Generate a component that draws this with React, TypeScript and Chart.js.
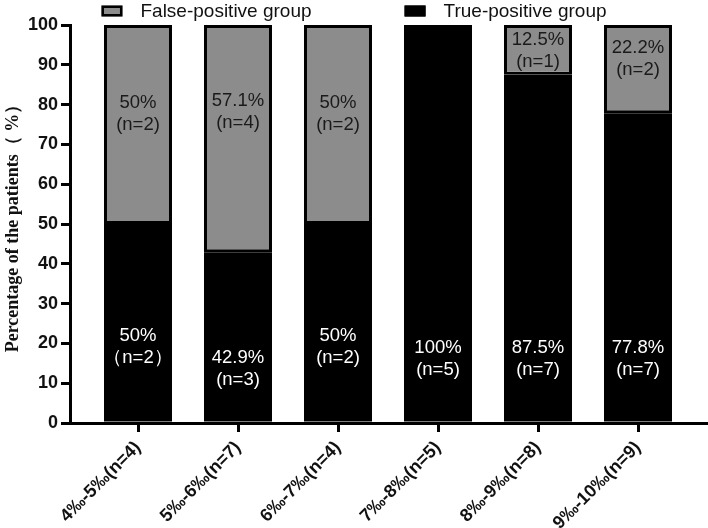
import React, { useEffect, useRef } from "react";
import { Chart, registerables } from "chart.js";

Chart.register(...registerables);

// ---------- data ----------
const categories = [
  "4‰-5‰(n=4)",
  "5‰-6‰(n=7)",
  "6‰-7‰(n=4)",
  "7‰-8‰(n=5)",
  "8‰-9‰(n=8)",
  "9‰-10‰(n=9)",
];
const truePositivePct = [50, 42.9, 50, 100, 87.5, 77.8];
const falsePositivePct = [50, 57.1, 50, 0, 12.5, 22.2];
const truePositiveN = ["（n=2）", "(n=3)", "(n=2)", "(n=5)", "(n=7)", "(n=7)"];
const falsePositiveN = ["(n=2)", "(n=4)", "(n=2)", "", "(n=1)", "(n=2)"];
const truePctLabels = ["50%", "42.9%", "50%", "100%", "87.5%", "77.8%"];
const falsePctLabels = ["50%", "57.1%", "50%", "", "12.5%", "22.2%"];
// where each annotation block is centred (value units)
const trueLabelAnchor = [19.1, 13.6, 19.1, 16, 16, 16];
const falseLabelAnchor = [77.6, 78.1, 77.6, 0, 93.5, 91.5];
const yTicks = [0, 10, 20, 30, 40, 50, 60, 70, 80, 90, 100];

const SANS = "'Liberation Sans', Arial, sans-serif";
const SERIF = "'Liberation Serif', 'Times New Roman', serif";

const GRAY = "#8c8c8c";

const legendPlugin = {
  id: "customLegend",
  afterDraw(chart: any) {
    const ctx = chart.ctx;
    const items = [
      { text: "False-positive group", fill: GRAY },
      { text: "True-positive group", fill: "#000000" },
    ];
    ctx.save();
    ctx.font = `19px ${SANS}`;
    ctx.textBaseline = "middle";
    ctx.textAlign = "left";
    const boxW = 21;
    const boxH = 11;
    const gapBoxText = 18;
    const gapItems = 93;
    const widths = items.map((it) => boxW + gapBoxText + ctx.measureText(it.text).width);
    const total = widths.reduce((a, b) => a + b, 0) + gapItems;
    let x = chart.width / 2 - total / 2;
    const cy = 11;
    items.forEach((it, i) => {
      ctx.fillStyle = it.fill;
      ctx.fillRect(x, cy - boxH / 2, boxW, boxH);
      ctx.strokeStyle = "#000";
      ctx.lineWidth = 2.5;
      ctx.strokeRect(x + 1.25, cy - boxH / 2 + 1.25, boxW - 2.5, boxH - 2.5);
      ctx.fillStyle = "#111";
      ctx.fillText(it.text, x + boxW + gapBoxText, cy + 1);
      x += widths[i] + gapItems;
    });
    ctx.restore();
  },
};

const barLabelPlugin = {
  id: "barLabels",
  afterDatasetsDraw(chart: any) {
    const ctx = chart.ctx;
    const yScale = chart.scales.y;
    const sets = [
      { idx: 0, pct: truePctLabels, n: truePositiveN, anchor: trueLabelAnchor, vals: truePositivePct, color: "#ffffff" },
      { idx: 1, pct: falsePctLabels, n: falsePositiveN, anchor: falseLabelAnchor, vals: falsePositivePct, color: "#1a1a1a" },
    ];
    ctx.save();
    ctx.font = `18.5px ${SANS}`;
    ctx.textAlign = "center";
    ctx.textBaseline = "middle";
    sets.forEach((s) => {
      const meta = chart.getDatasetMeta(s.idx);
      meta.data.forEach((el: any, i: number) => {
        if (!s.vals[i]) return;
        const cy = yScale.getPixelForValue(s.anchor[i]);
        ctx.fillStyle = s.color;
        ctx.fillText(s.pct[i], el.x, cy - 11);
        ctx.fillText(s.n[i], el.x, cy + 11);
      });
    });
    ctx.restore();
  },
};

export default function App() {
  const ref = useRef<HTMLCanvasElement | null>(null);
  useEffect(() => {
    if (!ref.current) return;
    const chart = new Chart(ref.current, {
      type: "bar",
      data: {
        datasets: [
          {
            label: "True-positive group",
            data: truePositivePct.map((v, i) => ({ x: i, y: v })),
            backgroundColor: "#000000",
            borderColor: "#000000",
            borderWidth: 0,
            barPercentage: 0.68,
            categoryPercentage: 1,
          },
          {
            label: "False-positive group",
            data: falsePositivePct.map((v, i) => ({ x: i, y: v })),
            backgroundColor: GRAY,
            borderColor: "#000000",
            borderWidth: 3,
            borderSkipped: false,
            barPercentage: 0.68,
            categoryPercentage: 1,
          },
        ],
      },
      options: {
        animation: false,
        responsive: false,
        maintainAspectRatio: false,
        layout: { padding: { top: 25, right: 2, left: 0, bottom: 0 } },
        plugins: {
          legend: { display: false },
          tooltip: { enabled: false },
        },
        scales: {
          x: {
            type: "linear",
            stacked: true,
            offset: false,
            min: -0.68,
            max: 5.68,
            afterBuildTicks: (s: any) => {
              s.ticks = categories.map((_, i) => ({ value: i }));
            },
            afterFit: (s: any) => {
              s.height = 105;
            },
            ticks: {
              autoSkip: false,
              maxRotation: 45,
              minRotation: 45,
              padding: 5,
              color: "#111",
              font: { family: SANS, size: 18, weight: "bold" },
              callback: (v: any) => categories[v as number] ?? "",
            },
            grid: {
              display: true,
              offset: false,
              drawOnChartArea: false,
              drawTicks: true,
              tickLength: 9,
              color: "#000",
              lineWidth: 3,
            },
            border: { display: true, color: "#000", width: 3 },
          },
          y: {
            type: "linear",
            stacked: true,
            min: 0,
            max: 100,
            afterBuildTicks: (s: any) => {
              s.ticks = yTicks.map((v) => ({ value: v }));
            },
            afterFit: (s: any) => {
              s.width = 70;
            },
            ticks: {
              padding: 3,
              color: "#111",
              font: { family: SANS, size: 18, weight: "bold" },
            },
            grid: {
              display: true,
              drawOnChartArea: false,
              drawTicks: true,
              tickLength: 9,
              color: "#000",
              lineWidth: 3,
            },
            border: { display: true, color: "#000", width: 3 },
            title: {
              display: true,
              text: "Percentage of the patients（ %）",
              color: "#111",
              font: { family: SERIF, size: 18, weight: "bold" },
              padding: { top: 3, bottom: 2 },
            },
          },
        },
      },
      plugins: [legendPlugin, barLabelPlugin],
    });
    return () => chart.destroy();
  }, []);
  return (
    <div style={{ position: "absolute", left: 0, top: 0, width: 708, height: 528, background: "#fff" }}>
      <canvas ref={ref} width={708} height={528} style={{ width: 708, height: 528, display: "block" }} />
    </div>
  );
}
